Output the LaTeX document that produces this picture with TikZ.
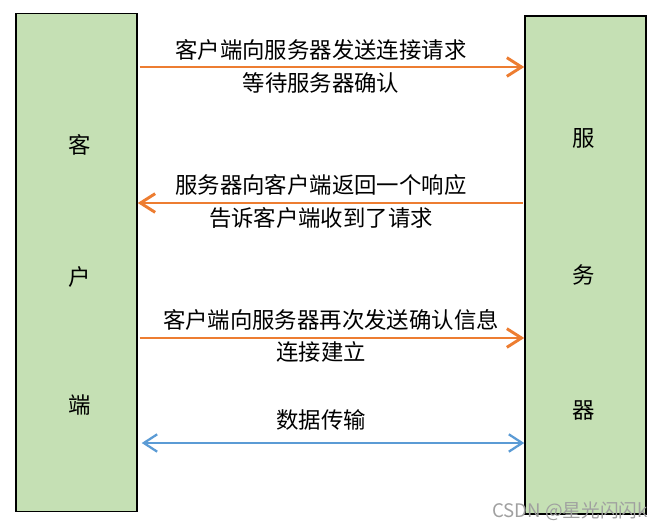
\documentclass[tikz,border=0pt]{standalone}
\usepackage{fontspec}
\setmainfont{Noto Sans CJK SC}
\usetikzlibrary{arrows.meta, positioning, calc}
\definecolor{boxgreen}{HTML}{C5E0B4}
\definecolor{linkorange}{HTML}{ED7D31}
\definecolor{linkblue}{HTML}{5B9BD5}
\definecolor{markgray}{HTML}{A0A0A0}
\newcommand{\sidebox}[3]{%
  \node[draw=black, line width=1.1pt, fill=boxgreen, minimum width=#3*0.75pt,
        minimum height=498*0.75pt, inner sep=0pt] (#1) at (#2) {};}

\begin{document}
\begin{tikzpicture}[x=0.75pt, y=-0.75pt,
    font=\fontsize{16.8}{20}\selectfont,
    msg/.style={-{Straight Barb[length=11pt, width=14pt]}, line width=2.2pt, linkorange},
    data/.style={{Straight Barb[length=10pt, width=13pt]}-{Straight Barb[length=10pt, width=13pt]},
      line width=1.7pt, linkblue}]
      \useasboundingbox (0,0) rectangle (662,529);
      \sidebox{client}{76.5,262.5}{121}
      \sidebox{server}{585.5,265}{121}
      % labels inside the two boxes
      \node (c1) at (80,145) {客};
      \node (c2) at (80,277) {户};
      \node (c3) at (80,405) {端};
      \node (s1) at (584,138) {服};
      \node (s2) at (584,275) {务};
      \node (s3) at (584,410) {器};
      % levels of the connectors
      \coordinate (y1) at (0,67);
      \coordinate (y2) at (0,203);
      \coordinate (y3) at (0,338);
      \coordinate (y4) at (0,443);
      \node (t1) at (321,50) {客户端向服务器发送连接请求};
      \node (t2) at (321,83) {等待服务器确认};
      \node (t3) at (321,185) {服务器向客户端返回一个响应};
      \node (t4) at (321,218) {告诉客户端收到了请求};
      \node (t5) at (331,320) {客户端向服务器再次发送确认信息};
      \node (t6) at (321,352) {连接建立};
      \node (t7) at (321,420) {数据传输};
      \draw[msg, shorten <=1.5pt] (client.east |- y1) -- (server.west |- y1);
      \draw[msg, shorten <=1pt] (server.west |- y2) -- (client.east |- y2);
      \draw[msg, shorten <=1.5pt] (client.east |- y3) -- (server.west |- y3);
      \draw[data, shorten <=3pt] (client.east |- y4) -- (server.west |- y4);
      \node[text=markgray, font=\fontsize{14}{16}\selectfont] (mark) at (570,511) {CSDN @星光闪闪k};
    \end{tikzpicture}
\end{document}
